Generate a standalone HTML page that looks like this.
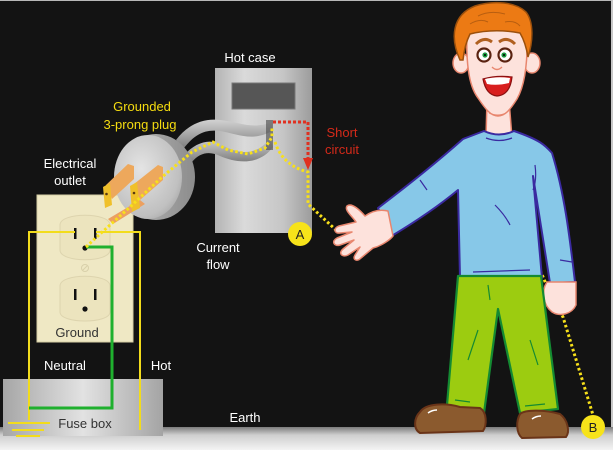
<!DOCTYPE html>
<html><head><meta charset="utf-8">
<style>
html,body{margin:0;padding:0;background:#131313;}
svg{display:block;}
text{font-family:"Liberation Sans",sans-serif;}
</style></head>
<body>
<svg width="613" height="450" viewBox="0 0 613 450" xmlns="http://www.w3.org/2000/svg">
<defs>
<linearGradient id="floor" x1="0" y1="0" x2="0" y2="1">
<stop offset="0" stop-color="#7c7c7c"/><stop offset="0.35" stop-color="#cfcfcf"/><stop offset="1" stop-color="#f4f4f4"/>
</linearGradient>
<linearGradient id="case" x1="0" y1="0" x2="1" y2="0">
<stop offset="0" stop-color="#b4b4b4"/><stop offset="0.3" stop-color="#dadada"/><stop offset="0.7" stop-color="#c6c6c6"/><stop offset="1" stop-color="#9c9c9c"/>
</linearGradient>
<linearGradient id="fuse" x1="0" y1="0" x2="1" y2="0">
<stop offset="0" stop-color="#a6a6a6"/><stop offset="0.5" stop-color="#e2e2e2"/><stop offset="1" stop-color="#a4a4a4"/>
</linearGradient>
<linearGradient id="cord" x1="0" y1="0" x2="0" y2="1">
<stop offset="0" stop-color="#d2d2d2"/><stop offset="1" stop-color="#7e7e7e"/>
</linearGradient>
<linearGradient id="plugrim" x1="0" y1="0" x2="1" y2="0">
<stop offset="0" stop-color="#bdbdbd"/><stop offset="1" stop-color="#8c8c8c"/>
</linearGradient>
<radialGradient id="plug" cx="0.4" cy="0.4" r="0.7">
<stop offset="0" stop-color="#e4e4e4"/><stop offset="0.8" stop-color="#c0c0c0"/><stop offset="1" stop-color="#a8a8a8"/>
</radialGradient>
</defs>

<rect width="613" height="450" fill="#131313"/>
<line x1="0" y1="0.5" x2="613" y2="0.5" stroke="#b8b8b8" stroke-width="1"/>
<line x1="612" y1="0" x2="612" y2="450" stroke="#c8c8c8" stroke-width="2"/>

<!-- floor -->
<rect x="0" y="427" width="613" height="23" fill="url(#floor)"/>

<!-- fuse box -->
<rect x="3" y="379" width="160" height="57" fill="url(#fuse)"/>

<!-- outlet plate -->
<rect x="37" y="195" width="96" height="147" fill="#efe8c4" stroke="#d6cea4" stroke-width="1"/>
<path d="M60,225 C60,212 110,212 110,225 L110,250 C110,263 60,263 60,250 Z" fill="#ece4be" stroke="#ddd4ae" stroke-width="1"/>
<path d="M60,286 C60,273 110,273 110,286 L110,312 C110,324 60,324 60,312 Z" fill="#ece4be" stroke="#ddd4ae" stroke-width="1"/>
<rect x="74" y="228" width="2.5" height="11" fill="#111"/>
<rect x="94" y="228" width="2.5" height="11" fill="#111"/>
<circle cx="85" cy="248" r="2.6" fill="#111"/>
<circle cx="85" cy="268" r="3.5" fill="none" stroke="#d8d0aa" stroke-width="1"/>
<line x1="83" y1="270" x2="87" y2="266" stroke="#d8d0aa" stroke-width="1"/>
<rect x="74" y="289" width="2.5" height="11" fill="#111"/>
<rect x="94" y="289" width="2.5" height="11" fill="#111"/>
<circle cx="85" cy="309" r="2.6" fill="#111"/>

<!-- wires -->
<polyline points="29,420 29,232 75,232" fill="none" stroke="#f2dc1c" stroke-width="2"/>
<polyline points="96,232 140,232 140,430" fill="none" stroke="#f2dc1c" stroke-width="2"/>
<polyline points="86,247 112,247 112,408 29,408" fill="none" stroke="#1fb02e" stroke-width="3"/>
<line x1="8" y1="423" x2="50" y2="423" stroke="#f2dc1c" stroke-width="2"/>
<line x1="12" y1="430" x2="44" y2="430" stroke="#f2dc1c" stroke-width="2"/>
<line x1="16" y1="436" x2="40" y2="436" stroke="#f2dc1c" stroke-width="2"/>

<!-- hot case -->
<rect x="215" y="68" width="97" height="165" fill="url(#case)"/>
<rect x="232" y="83" width="63" height="26" fill="#565656" stroke="#777" stroke-width="1"/>

<!-- cord -->
<path d="M176,140 C188,124 204,118 220,120 C240,122 252,130 272,122 L272,131 C252,142 238,134 220,131 C205,129 195,134 184,148 Z" fill="url(#cord)"/>
<path d="M184,155 C196,142 210,138 222,145 C236,153 256,158 270,138 L273,147 C259,166 236,163 220,156 C210,151 200,152 192,162 Z" fill="url(#cord)"/>
<rect x="266" y="120" width="7" height="30" fill="#3a3a3a" opacity="0.55"/>

<!-- plug -->
<ellipse cx="156" cy="177" rx="39" ry="43" fill="url(#plugrim)"/>
<ellipse cx="148" cy="177" rx="34" ry="42" fill="url(#plug)"/>
<!-- prongs -->
<polygon points="106,185 128,164 134,166 134,179 112,199" fill="#eda85c"/>
<polygon points="103,187 110,183 112,205 105,208" fill="#f0c02a"/>
<circle cx="106.5" cy="194" r="1.3" fill="#5a3a10"/>
<polygon points="108,219 140,200 145,204 113,224" fill="#eca060"/>
<polygon points="134,184 158,165 163,167 163,180 140,200" fill="#eda85c"/>
<polygon points="130,186 137,182 140,208 132,212" fill="#f0c02a"/>
<circle cx="134" cy="193" r="1.3" fill="#5a3a10"/>

<!-- dotted current paths -->
<g fill="none" stroke="#f7e01a" stroke-width="3" stroke-dasharray="2.6 2.4">
<polyline points="86,247 100,234 130,207 162,177 192,152 213,142 228,150 248,154 265,148 272,137 272,127"/>
<path d="M275,142 C280,158 292,168 308,172 L308,204 L337,231 L377,215 L430,183 L457,172 L476,163 L482,167 L493,187 L510,210 L527,240 L540,270 L553,300 L563,317 L593,415"/>
</g>
<!-- red short circuit -->
<polyline points="273,122 308,122 308,160" fill="none" stroke="#e03020" stroke-width="3" stroke-dasharray="3 2"/>
<polygon points="303,158 313,158 308,170" fill="#e03020"/>

<!-- man: ears, neck, face -->
<ellipse cx="461" cy="63" rx="8" ry="10" fill="#fde2dc" stroke="#e8866e" stroke-width="1.5"/>
<ellipse cx="532" cy="63" rx="8" ry="10" fill="#fde2dc" stroke="#e8866e" stroke-width="1.5"/>
<path d="M487,100 L486,138 L512,138 L509,100 Z" fill="#fde2dc" stroke="#e8866e" stroke-width="1.5"/>
<path d="M467,30 C466,60 468,85 478,98 C486,110 491,116 498,116 C505,116 510,110 517,99 C525,85 528,60 527,30 Z" fill="#fde2dc" stroke="#e8866e" stroke-width="1.5"/>
<path d="M489,113 Q498,117 506,113" fill="none" stroke="#e8866e" stroke-width="1"/>
<!-- hair -->
<path d="M460,60 C450,38 452,15 475,6 C494,0 516,2 526,12 C534,22 533,42 528,57 C526,45 523,38 520,33 C504,30 486,30 470,34 C466,42 464,50 463,60 Z" fill="#ec7a14" stroke="#9c500c" stroke-width="1.5"/>
<path d="M478,16 Q490,10 505,14 M470,24 Q480,18 488,22 M505,22 Q515,20 520,26" fill="none" stroke="#b85e10" stroke-width="1"/>
<!-- brows, eyes -->
<path d="M476,44 Q484,36 492,42" fill="none" stroke="#b06020" stroke-width="3"/>
<path d="M499,42 Q507,36 515,44" fill="none" stroke="#b06020" stroke-width="3"/>
<circle cx="484" cy="55" r="6.5" fill="#fff" stroke="#5a2210" stroke-width="2.2"/>
<circle cx="505" cy="55" r="6.5" fill="#fff" stroke="#5a2210" stroke-width="2.2"/>
<circle cx="485" cy="55" r="2.6" fill="#1a9a40"/>
<circle cx="504" cy="55" r="2.6" fill="#1a9a40"/>
<circle cx="485" cy="55" r="1" fill="#000"/>
<circle cx="504" cy="55" r="1" fill="#000"/>
<path d="M492,67 Q497,72 502,67" fill="none" stroke="#e8866e" stroke-width="1.3"/>
<!-- mouth -->
<path d="M483,79 Q497,75 512,77 Q510,95 497,96 Q486,95 483,79 Z" fill="#d81e1e" stroke="#8a1010" stroke-width="1.2"/>
<path d="M485,79 Q497,76 510,78 L509,83 Q497,86 487,84 Z" fill="#fff"/>

<!-- shirt -->
<path d="M484,131 L463,139 C445,155 415,180 378,208 L390,237 C415,222 440,205 458,190 L460,278 L542,278 L533,176 L550,283 L575,282 C570,240 565,195 552,153 C545,145 540,140 514,131 Q499,138 484,131 Z" fill="#87c8e8" stroke="#3a2aa0" stroke-width="2" stroke-linejoin="round"/>
<path d="M486,138 Q499,143 512,138" fill="none" stroke="#3a2aa0" stroke-width="1.3"/>
<path d="M495,205 Q505,215 510,225 M473,272 L530,270 M420,180 L427,190 M560,260 L572,262 M535,165 Q537,180 533,190" fill="none" stroke="#3a2aa0" stroke-width="1.2"/>

<!-- left hand -->
<path d="M388,211 C380,209 372,211 365,216 C358,208 351,203 347,206 C344,210 352,216 356,222 L339,226 C333,228 334,234 340,233 L352,232 L337,238 C331,241 334,247 340,245 L354,240 L343,249 C338,253 342,258 348,255 L360,247 L355,255 C352,260 357,262 361,258 L373,248 C381,246 390,240 393,236 Z" fill="#fde2dc" stroke="#e8866e" stroke-width="1.5" stroke-linejoin="round"/>
<!-- right hand -->
<path d="M547,282 C541,291 543,305 552,312 C560,317 572,314 576,305 L576,282 Z" fill="#fde2dc" stroke="#e8866e" stroke-width="1.5"/>

<!-- pants -->
<path d="M458,276 L541,276 L558,409 L520,413 L498,309 L484,413 L447,405 Z" fill="#9ccc10" stroke="#148a32" stroke-width="2.2" stroke-linejoin="round"/>
<path d="M478,330 L468,360 M530,340 L538,365 M455,400 L470,402 M525,406 L545,404 M488,285 L490,300" fill="none" stroke="#148a32" stroke-width="1.2"/>

<!-- shoes -->
<path d="M420,412 C426,403 446,403 460,407 L480,408 C487,412 487,425 483,431 L420,433 C413,429 414,418 420,412 Z" fill="#8b5a2e" stroke="#6a3418" stroke-width="2"/>
<path d="M520,414 C526,409 546,410 560,414 C568,420 570,432 566,437 L522,438 C516,433 516,421 520,414 Z" fill="#8b5a2e" stroke="#6a3418" stroke-width="2"/>
<path d="M428,413 Q432,410 437,410 M532,419 Q536,416 541,416" fill="none" stroke="#fff" stroke-width="1.5"/>

<!-- markers -->
<circle cx="300" cy="234" r="12" fill="#f7e31a"/>
<text x="300" y="239" font-size="13" text-anchor="middle" fill="#222">A</text>
<circle cx="593" cy="427" r="12" fill="#f7e31a"/>
<text x="593" y="432" font-size="13" text-anchor="middle" fill="#222">B</text>

<!-- labels -->
<g font-size="13" fill="#ffffff" text-anchor="middle">
<text x="70" y="168">Electrical</text>
<text x="70" y="185">outlet</text>
<text x="250" y="62">Hot case</text>
<text x="218" y="252">Current</text>
<text x="218" y="269">flow</text>
<text x="65" y="370">Neutral</text>
<text x="161" y="370">Hot</text>
<text x="245" y="422">Earth</text>
</g>
<g font-size="13" fill="#333333" text-anchor="middle">
<text x="77" y="337">Ground</text>
<text x="85" y="428">Fuse box</text>
</g>
<g font-size="13" fill="#f5dc10" text-anchor="middle">
<text x="142" y="111">Grounded</text>
<text x="140" y="129">3-prong plug</text>
</g>
<g font-size="13" fill="#d42a1a" text-anchor="middle">
<text x="342" y="137">Short</text>
<text x="342" y="154">circuit</text>
</g>
</svg>
</body></html>
